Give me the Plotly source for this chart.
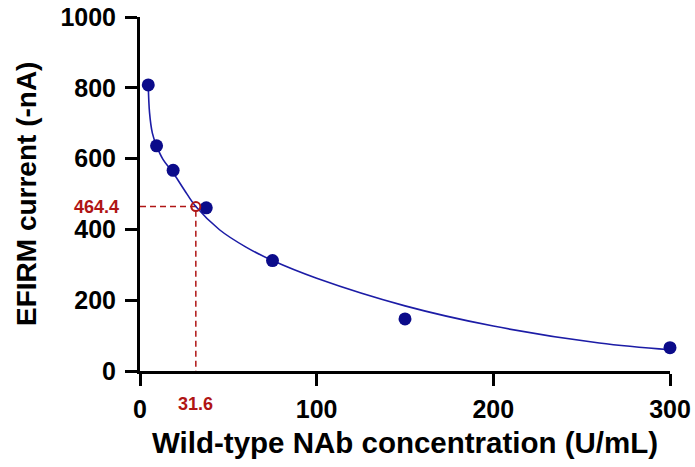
import plotly.graph_objects as go

# Measured points: neutralising antibody concentration vs EFIRM current
conc = [4.6875, 9.375, 18.75, 37.5, 75, 150, 300]
current = [808, 636, 567, 461, 312, 147, 66]

# Fitted calibration curve, sampled along its length
fit_x = [4.6875, 5.4, 7, 9.375, 13, 18.75, 25, 31.6, 45, 60, 75, 100, 150, 200, 260, 300]
fit_y = [808, 730, 672, 636, 598, 560, 512, 464.4, 399, 350, 312, 262, 184, 127, 79, 60]

# Interpolated sample
sample_x = 31.6
sample_y = 464.4

x_ticks = [0, 100, 200, 300]
y_ticks = [0, 200, 400, 600, 800, 1000]

x_title = "Wild-type NAb concentration (U/mL)"
y_title = "EFIRM current (-nA)"

blue = "#0b0b8a"
curve_blue = "#1c1ca6"
red = "#b01515"
font_family = "Liberation Sans, Arial, sans-serif"

fig = go.Figure()

# Dashed guide lines from the axes to the sample point
fig.add_trace(go.Scatter(
    x=[0, sample_x, sample_x], y=[sample_y, sample_y, 0],
    mode="lines", line=dict(color=red, width=1.5, dash="6px,4px"),
    hoverinfo="skip", showlegend=False, cliponaxis=False,
))

fig.add_trace(go.Scatter(
    x=fit_x, y=fit_y, mode="lines",
    line=dict(color=curve_blue, width=1.6, shape="spline", smoothing=1.0),
    showlegend=False, cliponaxis=False,
))

fig.add_trace(go.Scatter(
    x=conc, y=current, mode="markers",
    marker=dict(color=blue, size=13, line=dict(width=0)),
    showlegend=False, cliponaxis=False,
))

fig.add_trace(go.Scatter(
    x=[sample_x], y=[sample_y], mode="markers",
    marker=dict(symbol="circle-open", color=red, size=9, line=dict(width=2, color=red)),
    showlegend=False, cliponaxis=False,
))

# Value labels for the interpolated sample
fig.add_annotation(
    x=0, y=sample_y, xref="x", yref="y", text=f"<b>{sample_y}</b>",
    showarrow=False, xanchor="right", yanchor="middle", xshift=-19,
    font=dict(family=font_family, size=18, color=red),
)
fig.add_annotation(
    x=sample_x, y=0, xref="x", yref="y", text=f"<b>{sample_x}</b>",
    showarrow=False, xanchor="center", yanchor="top", yshift=-21,
    font=dict(family=font_family, size=18, color=red),
)

# Axis titles
fig.add_annotation(
    x=0.5, y=0, xref="paper", yref="paper", text=f"<b>{x_title}</b>",
    showarrow=False, xanchor="center", yanchor="middle", yshift=-71,
    font=dict(family=font_family, size=29.5, color="black"),
)
fig.add_annotation(
    x=0, y=0.5, xref="paper", yref="paper", text=f"<b>{y_title}</b>",
    showarrow=False, xanchor="center", yanchor="middle", xshift=-114, textangle=-90,
    font=dict(family=font_family, size=28, color="black"),
)

axis_common = dict(
    showline=True, linecolor="black", linewidth=3,
    ticks="outside", ticklen=12, tickwidth=3, tickcolor="black",
    showgrid=False, zeroline=False, automargin=False,
    tickfont=dict(family=font_family, size=25, color="black", weight="bold"),
)

fig.update_xaxes(
    range=[0, 300], tickvals=x_ticks, ticktext=[str(v) for v in x_ticks],
    ticklabelstandoff=2,
    **axis_common,
)
fig.update_yaxes(
    range=[0, 1000], tickvals=y_ticks, ticktext=[str(v) for v in y_ticks],
    ticklabelstandoff=4,
    **axis_common,
)

fig.update_layout(
    width=695, height=467,
    margin=dict(l=140, r=25, t=17, b=96),
    plot_bgcolor="white", paper_bgcolor="white",
    showlegend=False,
)

fig.write_html("out.html")
